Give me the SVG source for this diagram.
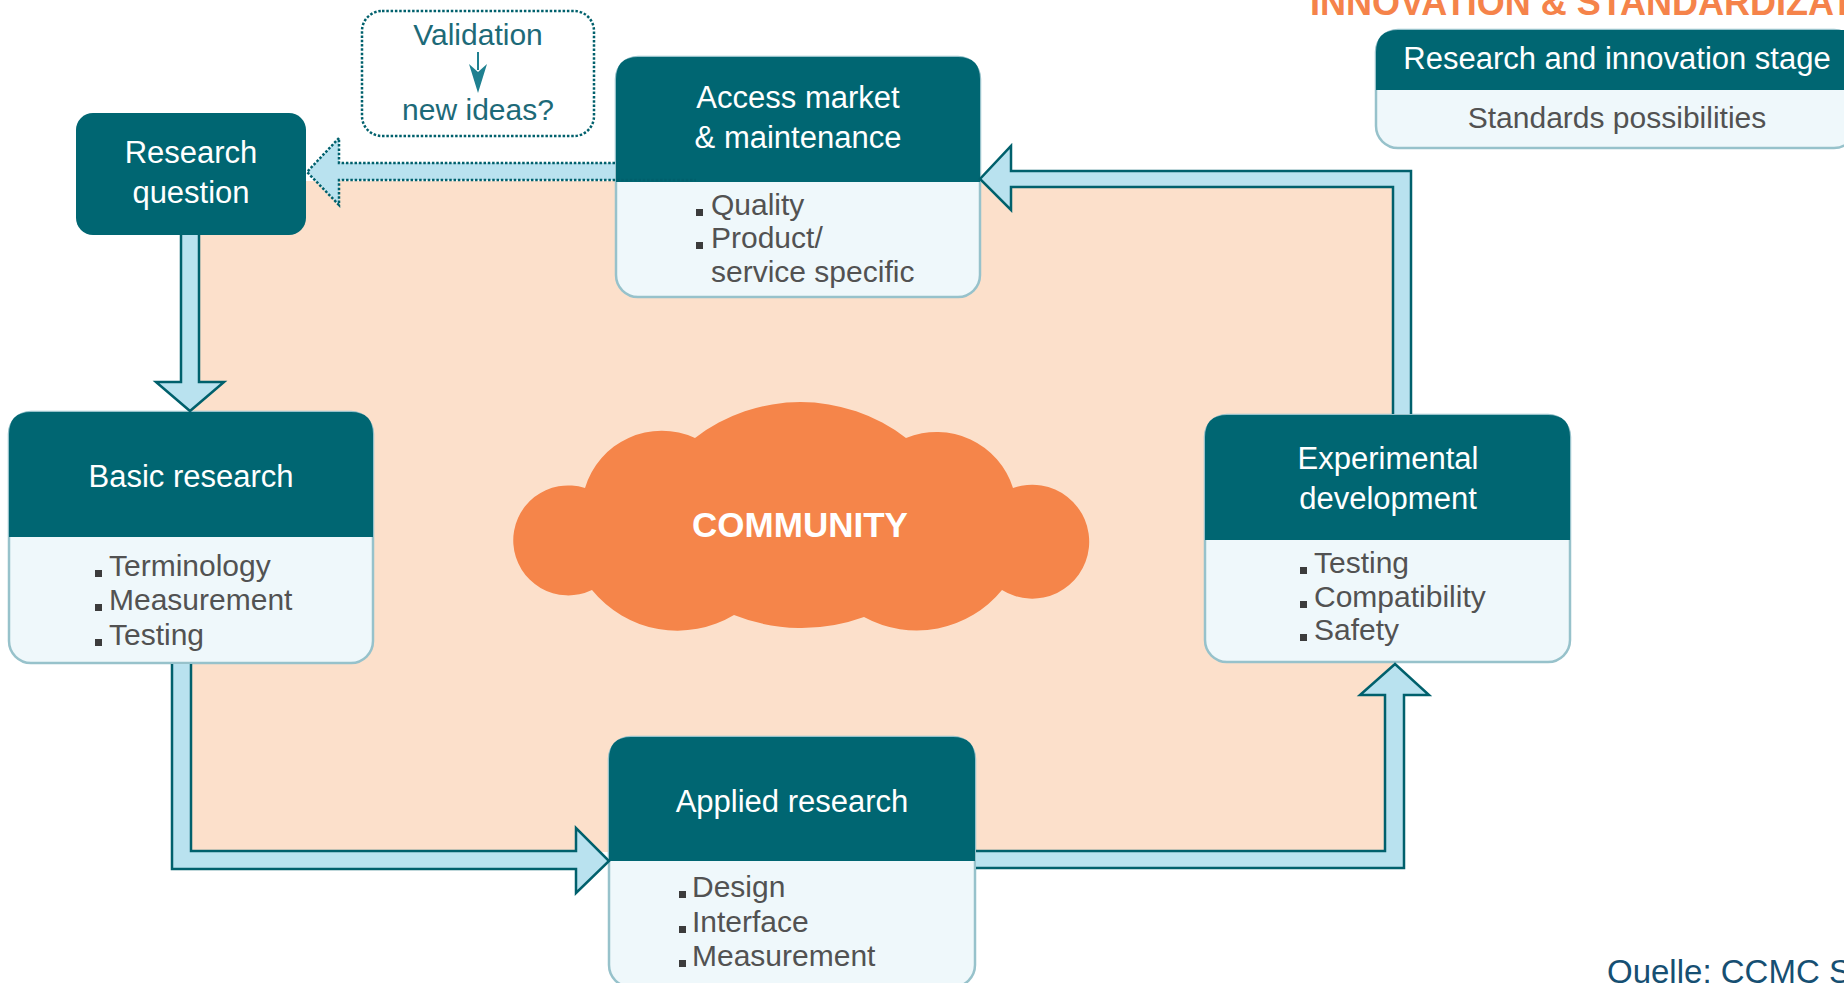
<svg xmlns="http://www.w3.org/2000/svg" width="1844" height="983" viewBox="0 0 1844 983">
<defs>
<style>
.hd{fill:#006672;}
.bd{fill:#eff8fb;stroke:#97c2cb;stroke-width:2.5;}
.ht{font-family:"Liberation Sans",Arial,sans-serif;font-size:31px;fill:#ffffff;text-anchor:middle;}
.bt{font-family:"Liberation Sans",Arial,sans-serif;font-size:30px;fill:#525252;}
.bl{fill:#3c3c3c;}
.arr{fill:#b9e2ef;stroke:#00606c;stroke-width:2.5;stroke-linejoin:miter;}
.dot{fill:none;stroke:#00606c;stroke-width:2.5;stroke-dasharray:2.5 1.8;}
.vt{font-family:"Liberation Sans",Arial,sans-serif;font-size:30px;fill:#1d6a78;text-anchor:middle;}
</style>
</defs>
<rect width="1844" height="983" fill="#ffffff"/>
<!-- beige community area -->
<rect id="area" x="192" y="181" width="1201" height="671" fill="#fce0cb"/>
<!-- cloud -->
<g id="community">
<path d="M585,488 A80,80 0 0 1 695,438 A173,173 0 0 1 906,438 A80,80 0 0 1 1013,488 A57,57 0 1 1 1002,590 A110,110 0 0 1 864,617 A182,182 0 0 1 734,615 A110,110 0 0 1 592,590 A55,55 0 1 1 585,488 Z" fill="#f5854a"/>
<text x="800" y="537" font-family="'Liberation Sans',Arial,sans-serif" font-size="35" font-weight="bold" fill="#ffffff" text-anchor="middle">COMMUNITY</text>
</g>
<!-- title and legend -->
<text id="title" x="1310" y="15" font-family="'Liberation Sans',Arial,sans-serif" font-size="36" font-weight="bold" fill="#f5834a">INNOVATION &amp; STANDARDIZATION</text>
<g id="legend">
<rect class="bd" x="1376" y="30" width="480" height="118" rx="22"/>
<path class="hd" d="M1376,90 L1376,52 Q1376,30 1398,30 L1856,30 L1856,90 Z"/>
<text class="ht" x="1617" y="69">Research and innovation stage</text>
<text class="bt" x="1617" y="128" text-anchor="middle" font-size="31">Standards possibilities</text>
</g>
<!-- nodes -->
<g id="research-question">
<rect class="hd" x="76" y="113" width="230" height="122" rx="17"/>
<text class="ht" x="191" y="163">Research</text>
<text class="ht" x="191" y="203">question</text>
</g>
<g id="validation">
<rect x="362" y="11" width="232" height="125" rx="20" fill="#ffffff" stroke="#00606c" stroke-width="2.5" stroke-dasharray="2.5 1.8"/>
<text class="vt" x="478" y="45">Validation</text>
<line x1="478" y1="52" x2="478" y2="70" stroke="#1f8090" stroke-width="2"/>
<path d="M469,64 L478,72 L487,64 L478,93 Z" fill="#1f8090"/>
<text class="vt" x="478" y="120">new ideas?</text>
</g>
<g id="access-market">
<rect class="bd" x="616" y="57" width="364" height="240" rx="22"/>
<path class="hd" d="M616,182 L616,79 Q616,57 638,57 L958,57 Q980,57 980,79 L980,182 Z"/>
<text class="ht" x="798" y="108">Access market</text>
<text class="ht" x="798" y="148">&amp; maintenance</text>
<rect class="bl" x="696" y="209" width="7" height="7"/>
<text class="bt" x="711" y="215">Quality</text>
<rect class="bl" x="696" y="242" width="7" height="7"/>
<text class="bt" x="711" y="248">Product/</text>
<text class="bt" x="711" y="282">service specific</text>
</g>
<g id="basic-research">
<rect class="bd" x="9" y="412" width="364" height="251" rx="22"/>
<path class="hd" d="M9,537 L9,434 Q9,412 31,412 L351,412 Q373,412 373,434 L373,537 Z"/>
<text class="ht" x="191" y="487">Basic research</text>
<rect class="bl" x="95" y="570" width="7" height="7"/>
<text class="bt" x="109" y="576">Terminology</text>
<rect class="bl" x="95" y="604" width="7" height="7"/>
<text class="bt" x="109" y="610">Measurement</text>
<rect class="bl" x="95" y="639" width="7" height="7"/>
<text class="bt" x="109" y="645">Testing</text>
</g>
<g id="experimental-development">
<rect class="bd" x="1205" y="415" width="365" height="247" rx="22"/>
<path class="hd" d="M1205,540 L1205,437 Q1205,415 1227,415 L1548,415 Q1570,415 1570,437 L1570,540 Z"/>
<text class="ht" x="1388" y="469">Experimental</text>
<text class="ht" x="1388" y="509">development</text>
<rect class="bl" x="1300" y="567" width="7" height="7"/>
<text class="bt" x="1314" y="573">Testing</text>
<rect class="bl" x="1300" y="601" width="7" height="7"/>
<text class="bt" x="1314" y="607">Compatibility</text>
<rect class="bl" x="1300" y="634" width="7" height="7"/>
<text class="bt" x="1314" y="640">Safety</text>
</g>
<g id="applied-research">
<rect class="bd" x="609" y="737" width="366" height="250" rx="22"/>
<path class="hd" d="M609,861 L609,759 Q609,737 631,737 L953,737 Q975,737 975,759 L975,861 Z"/>
<text class="ht" x="792" y="812">Applied research</text>
<rect class="bl" x="679" y="891" width="7" height="7"/>
<text class="bt" x="692" y="897">Design</text>
<rect class="bl" x="679" y="926" width="7" height="7"/>
<text class="bt" x="692" y="932">Interface</text>
<rect class="bl" x="679" y="960" width="7" height="7"/>
<text class="bt" x="692" y="966">Measurement</text>
</g>
<!-- connectors -->
<g id="connectors">
<path class="arr" d="M181,235 L181,382 L156,382 L190,411 L224,382 L199,382 L199,235"/>
<path class="arr" d="M172,664 L172,869 L576,869 L576,893 L609,861 L576,828 L576,851 L191,851 L191,664"/>
<path class="arr" d="M976,868 L1404,868 L1404,695 L1429,695 L1395,664 L1360,695 L1385,695 L1385,851 L976,851"/>
<path class="arr" d="M1411,414 L1411,171 L1011,171 L1011,146 L980,179 L1011,210 L1011,187 L1393,187 L1393,414"/>
<path d="M615,163 L339,163 L339,138 L307,172 L339,205 L339,180 L615,180 Z" fill="#b9e2ef"/>
<path class="dot" d="M615,163 L339,163 L339,138 L307,172 L339,205 L339,180 L696,180"/>
</g>
<text id="source" x="1607" y="983" font-family="'Liberation Sans',Arial,sans-serif" font-size="33" fill="#164f72">Quelle: CCMC S</text>
</svg>
